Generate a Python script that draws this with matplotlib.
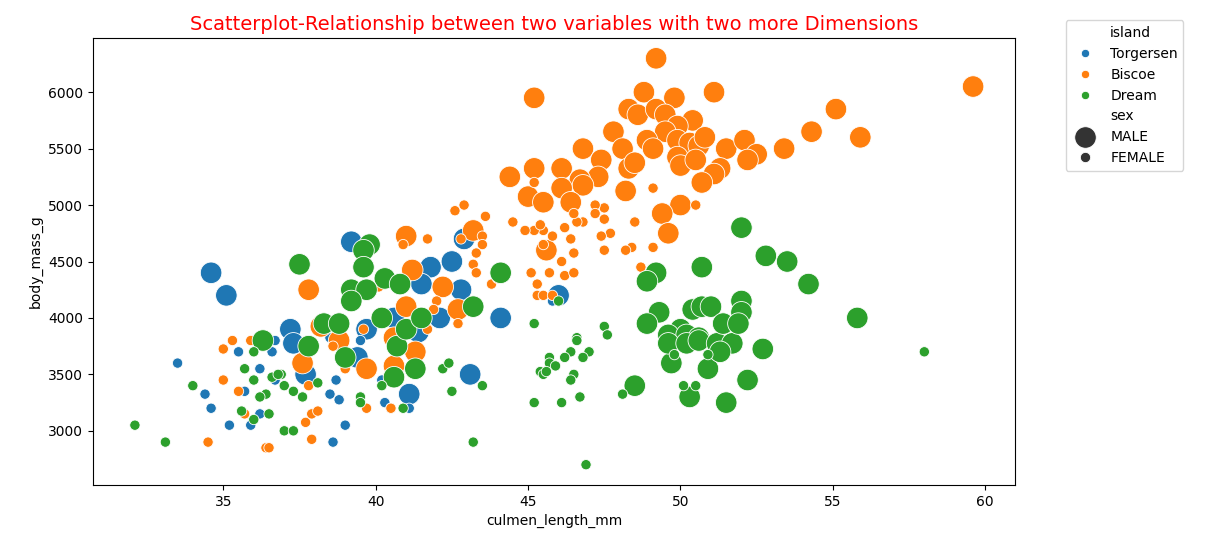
# Penguins: culmen length vs body mass, coloured by island, sized by sex

import pandas as pd
import matplotlib
matplotlib.use("Agg")
import matplotlib.pyplot as plt
import seaborn as sns

# Torgersen
torg_male_len = [34.6, 35.1, 39.2, 37.2, 37.3, 39.7, 40.6, 37.7, 39.4, 41.1, 42.9,
                 42.5, 41.8, 41.5, 42.8, 42.1, 41.4, 44.1, 43.1, 46.0]
torg_male_mass = [4400, 4200, 4675, 3900, 3775, 3900, 4000, 3500, 3650, 3325, 4700,
                  4500, 4450, 4300, 4250, 4000, 3875, 4000, 3500, 4200]
torg_female_len = [33.5, 35.5, 36.7, 36.6, 39.5, 36.2, 36.7, 34.4, 35.7, 34.6, 36.2,
                   35.2, 35.9, 38.6, 39.0, 38.7, 38.5, 38.8, 40.3, 40.5, 41.1, 40.2,
                   45.8, 38.5]
torg_female_mass = [3600, 3700, 3800, 3700, 3800, 3550, 3450, 3325, 3350, 3200, 3150,
                    3050, 3050, 2900, 3050, 3450, 3325, 3275, 3250, 3200, 3200, 3450,
                    4150, 3825]

# Biscoe
bisc_male_len = [49.2, 45.2, 48.8, 49.8, 51.1, 48.3, 48.6, 49.2, 49.5, 50.4, 49.9,
                 49.5, 47.8, 46.8, 48.1, 48.9, 49.1, 49.9, 50.3, 50.6, 50.8, 51.5,
                 52.1, 52.5, 52.2, 49.9, 50.0, 50.5, 47.4, 48.3, 48.5, 51.3, 51.1,
                 50.7, 44.4, 45.2, 46.1, 47.3, 46.7, 46.8, 46.1, 48.2, 45.0, 45.5,
                 46.4, 50.0, 49.4, 49.6, 45.6, 59.6, 55.1, 55.9, 54.3, 53.4, 43.2,
                 41.0, 41.2, 42.2, 42.7, 41.0, 37.8, 38.2, 38.8, 40.6, 37.6, 39.7,
                 40.6, 41.3]
bisc_male_mass = [6300, 5950, 6000, 5950, 6000, 5850, 5800, 5850, 5800, 5750, 5700,
                  5650, 5650, 5500, 5500, 5575, 5500, 5575, 5550, 5525, 5600, 5500,
                  5575, 5450, 5400, 5425, 5350, 5400, 5400, 5325, 5375, 5325, 5275,
                  5200, 5250, 5325, 5325, 5250, 5225, 5175, 5150, 5125, 5075, 5025,
                  5025, 5000, 4925, 4750, 4600, 6050, 5850, 5600, 5650, 5500, 4775,
                  4725, 4425, 4275, 4075, 4100, 4250, 3925, 3800, 3825, 3600, 3550,
                  3575, 3700]
bisc_female_len = [45.2, 49.1, 50.5, 48.5, 49.1, 48.4, 48.2, 48.7, 47.5, 47.7, 47.4,
                   47.5, 47.5, 47.2, 47.2, 46.8, 46.6, 46.5, 46.4, 46.2, 46.5, 46.1,
                   45.8, 45.5, 45.5, 45.2, 44.9, 45.4, 44.5, 45.7, 45.1, 46.2, 46.5,
                   45.3, 45.3, 45.5, 45.8, 43.6, 42.6, 42.9, 41.7, 40.9, 42.8, 43.5,
                   43.5, 43.3, 43.2, 43.3, 43.8, 44.0, 40.1, 42.0, 41.9, 41.7, 42.7,
                   39.6, 38.6, 35.3, 35.0, 35.9, 35.0, 35.5, 35.7, 34.5, 36.4, 36.5,
                   37.7, 37.9, 38.1, 37.9, 37.8, 39.0, 39.7, 40.5]
bisc_female_mass = [5200, 5150, 5000, 4850, 4625, 4625, 4600, 4450, 4600, 4750, 4725,
                    4975, 4875, 5000, 4925, 4850, 4850, 4925, 4700, 4800, 4575, 4500,
                    4725, 4650, 4775, 4775, 4775, 4825, 4850, 4400, 4400, 4375, 4400,
                    4300, 4200, 4200, 4200, 4900, 4950, 5000, 4700, 4650, 4700, 4725,
                    4650, 4575, 4475, 4400, 4300, 4350, 4275, 4150, 4075, 3900, 3950,
                    3900, 3750, 3800, 3725, 3800, 3450, 3350, 3150, 2900, 2850, 2850,
                    3075, 3150, 3175, 2925, 3400, 3550, 3200, 3200]

# Dream
dream_male_len = [37.5, 39.8, 39.6, 39.6, 40.3, 40.8, 39.2, 39.7, 39.2, 36.3, 37.8,
                  38.3, 38.8, 40.2, 40.7, 41.0, 39.0, 40.6, 41.5, 41.3, 43.2, 44.1,
                  49.2, 48.9, 50.7, 49.3, 48.9, 50.0, 50.4, 50.7, 51.0, 49.6, 50.2,
                  50.6, 48.5, 49.7, 49.6, 50.2, 50.6, 50.9, 50.3, 51.5, 51.2, 51.7,
                  51.3, 52.7, 52.2, 52.0, 52.8, 53.5, 54.2, 55.8, 52.0, 52.0, 51.4,
                  51.9]
dream_male_mass = [4475, 4650, 4600, 4450, 4350, 4300, 4250, 4250, 4150, 3800, 3750,
                   3950, 3950, 4000, 3750, 3900, 3650, 3475, 4000, 3550, 4100, 4400,
                   4400, 4325, 4450, 4050, 3950, 3900, 4075, 4100, 4100, 3850, 3850,
                   3825, 3400, 3600, 3775, 3775, 3800, 3550, 3300, 3250, 3775, 3775,
                   3700, 3725, 3450, 4800, 4550, 4500, 4300, 4000, 4150, 4050, 3950,
                   3950]
dream_female_len = [36.0, 35.7, 36.0, 34.0, 36.4, 36.2, 36.6, 36.9, 36.8, 37.0, 37.3,
                    37.6, 35.6, 36.0, 36.5, 32.1, 33.1, 37.0, 37.3, 38.1, 39.5, 39.5,
                    40.2, 40.9, 42.2, 42.4, 43.5, 42.5, 43.2, 45.2, 47.5, 47.6, 46.6,
                    46.6, 46.0, 47.0, 46.8, 46.4, 46.2, 45.7, 45.7, 45.9, 45.4, 45.5,
                    45.6, 46.5, 46.4, 46.7, 46.1, 45.2, 46.9, 48.1, 49.8, 50.9, 50.1,
                    50.5, 58.0]
dream_female_mass = [3700, 3550, 3450, 3400, 3325, 3300, 3475, 3500, 3500, 3400, 3350,
                     3300, 3175, 3100, 3150, 3050, 2900, 3000, 3000, 3425, 3300, 3250,
                     3400, 3200, 3550, 3600, 3400, 3350, 2900, 3950, 3925, 3850, 3825,
                     3800, 4150, 3700, 3650, 3700, 3650, 3650, 3600, 3575, 3525, 3500,
                     3525, 3500, 3450, 3300, 3250, 3250, 2700, 3325, 3675, 3675, 3400,
                     3400, 3700]

islands = ["Torgersen", "Biscoe", "Dream"]
sexes = ["MALE", "FEMALE"]

groups = [
    ("Torgersen", "MALE", torg_male_len, torg_male_mass),
    ("Torgersen", "FEMALE", torg_female_len, torg_female_mass),
    ("Biscoe", "MALE", bisc_male_len, bisc_male_mass),
    ("Biscoe", "FEMALE", bisc_female_len, bisc_female_mass),
    ("Dream", "MALE", dream_male_len, dream_male_mass),
    ("Dream", "FEMALE", dream_female_len, dream_female_mass),
]
frames = []
for island, sex, xs, ys in groups:
    frames.append(pd.DataFrame({"island": island, "sex": sex,
                                "culmen_length_mm": xs, "body_mass_g": ys}))
df = pd.concat(frames, ignore_index=True)

fig = plt.figure(figsize=(12.05, 5.45), dpi=100)
ax = fig.add_axes([93 / 1205, 60 / 545, 922 / 1205, 447 / 545])

sns.scatterplot(data=df, x="culmen_length_mm", y="body_mass_g",
                hue="island", hue_order=islands,
                size="sex", size_order=sexes, sizes=(55, 240), ax=ax)

ax.set_title("Scatterplot-Relationship between two variables with two more Dimensions",
             color="red", fontsize=14)
ax.legend(bbox_to_anchor=(1.055, 1.04), loc="upper left", borderaxespad=0)

fig.savefig("out.png", dpi=100)
